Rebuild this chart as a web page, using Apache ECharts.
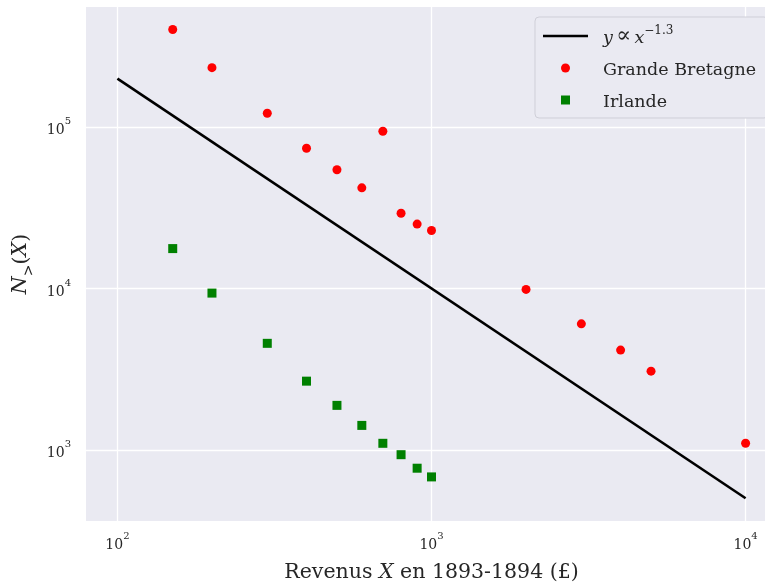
<!DOCTYPE html>
<html><head><meta charset="utf-8">
<script src="https://cdn.jsdelivr.net/npm/echarts@6/dist/echarts.min.js"></script>
<style>html,body{margin:0;padding:0;background:#fff}#c{width:765px;height:585px}</style>
</head><body><div id="c"></div>
<script>
// Data
const revenusGB = [150, 200, 300, 400, 500, 600, 700, 800, 900, 1000, 2000, 3000, 4000, 5000, 10000];
const grandeBretagne = [403000, 234000, 122000, 74100, 54500, 42100, 94400, 29300, 25100, 22900, 9890, 6050, 4160, 3080, 1100];
const revenusIrl = [150, 200, 300, 400, 500, 600, 700, 800, 900, 1000];
const irlande = [17700, 9380, 4580, 2670, 1890, 1420, 1100, 935, 771, 681];
const fitX = [100, 10000];
const fitY = [200000, 502];
const seriesNames = ['fit', 'Grande Bretagne', 'Irlande'];
const xName = ['Revenus ', 'X', ' en 1893-1894 (£)'];

const FONT = 'DejaVu Serif';
const TXT = '#262626';
const chart = echarts.init(document.getElementById('c'), null, {renderer: 'canvas'});

function powLabel(v) {
  return '{b|10}{s|' + Math.round(Math.log10(v)) + '}';
}
const labelRich = {
  b: {fontFamily: FONT, fontSize: 14, color: TXT, lineHeight: 21, verticalAlign: 'bottom'},
  s: {fontFamily: FONT, fontSize: 10, color: TXT, lineHeight: 12, verticalAlign: 'top'}
};

chart.setOption({
  animation: false,
  backgroundColor: '#ffffff',
  grid: {left: 86, width: 691, top: 7, bottom: 64, show: true, backgroundColor: '#EAEAF2', borderWidth: 0,
         containLabel: false, outerBoundsMode: 'none'},
  xAxis: {
    type: 'log', logBase: 10, min: 79.43, max: 12589,
    axisLine: {show: false}, axisTick: {show: false},
    splitLine: {show: true, showMinLine: false, showMaxLine: false, lineStyle: {color: '#ffffff', width: 1.3}},
    axisLabel: {showMinLabel: false, showMaxLabel: false, margin: 10, formatter: powLabel, rich: labelRich},
    name: '{n|' + xName[0] + '}{i|' + xName[1] + '}{n|' + xName[2] + '}',
    nameLocation: 'middle', nameGap: 41,
    nameTextStyle: {rich: {
      n: {fontFamily: FONT, fontSize: 20.5, color: TXT},
      i: {fontFamily: FONT, fontSize: 20.5, fontStyle: 'italic', color: TXT}
    }}
  },
  yAxis: {
    type: 'log', logBase: 10, min: 363, max: 556000,
    axisLine: {show: false}, axisTick: {show: false},
    splitLine: {show: true, showMinLine: false, showMaxLine: false, lineStyle: {color: '#ffffff', width: 1.3}},
    axisLabel: {showMinLabel: false, showMaxLabel: false, margin: 15, formatter: powLabel, rich: labelRich},
    name: '{i|N}{sub|>}{n|(}{i|X}{n|)}',
    nameLocation: 'middle', nameGap: 39, nameRotate: 90,
    nameTextStyle: {rich: {
      n: {fontFamily: FONT, fontSize: 20.5, color: TXT, lineHeight: 25, verticalAlign: 'top'},
      i: {fontFamily: FONT, fontSize: 20.5, fontStyle: 'italic', color: TXT, lineHeight: 25, verticalAlign: 'top'},
      sub: {fontFamily: FONT, fontSize: 14, color: TXT, lineHeight: 14, verticalAlign: 'bottom'}
    }}
  },
  legend: {
    orient: 'vertical', left: 535, top: 17,
    padding: [8, 12, 7, 8], itemGap: 14, itemWidth: 45, itemHeight: 9,
    backgroundColor: '#EAEAF2', borderColor: '#cfcfd8', borderWidth: 1, borderRadius: 4,
    data: [
      {name: seriesNames[0], icon: 'path://M0,0L45,0L45,2.6L0,2.6Z'},
      {name: seriesNames[1], icon: 'circle'},
      {name: seriesNames[2], icon: 'path://M0,0L10,0L10,10L0,10Z'}
    ],
    formatter: function (n) {
      if (n === seriesNames[0]) return '{i|y} {p|∝} {i|x}{s|−1.3}';
      return '{n|' + n + '}';
    },
    textStyle: {
      padding: [0, 0, 0, 10],
      rich: {
        n: {fontFamily: FONT, fontSize: 17.5, color: TXT, lineHeight: 22, verticalAlign: 'bottom'},
        p: {fontFamily: FONT, fontSize: 22, color: TXT, lineHeight: 22, verticalAlign: 'bottom'},
        i: {fontFamily: FONT, fontSize: 17.5, fontStyle: 'italic', color: TXT, lineHeight: 22, verticalAlign: 'bottom'},
        s: {fontFamily: FONT, fontSize: 12, color: TXT, lineHeight: 12, verticalAlign: 'top'}
      }
    }
  },
  series: [
    {
      name: seriesNames[0], type: 'line', symbol: 'none', showSymbol: false, silent: true,
      lineStyle: {color: '#000000', width: 2.6}, itemStyle: {color: '#000000'},
      data: fitX.map((x, i) => [x, fitY[i]]), z: 2
    },
    {
      name: seriesNames[1], type: 'scatter', symbol: 'circle', symbolSize: 9,
      itemStyle: {color: '#ff0000', opacity: 1},
      data: revenusGB.map((x, i) => [x, grandeBretagne[i]]), z: 3
    },
    {
      name: seriesNames[2], type: 'scatter', symbol: 'rect', symbolSize: 9,
      itemStyle: {color: '#008000', opacity: 1},
      data: revenusIrl.map((x, i) => [x, irlande[i]]), z: 3
    }
  ]
});
</script></body></html>
